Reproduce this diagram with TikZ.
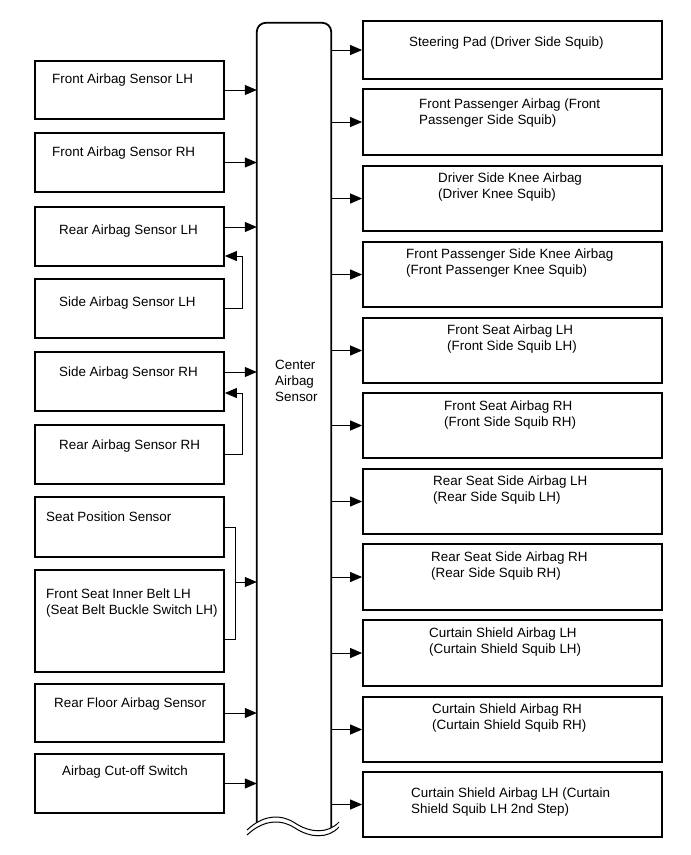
\documentclass[tikz,border=0pt]{standalone}
\usepackage{fontspec}
\setmainfont{Liberation Sans}
\usetikzlibrary{arrows.meta,calc}

\begin{document}
\begin{tikzpicture}[x=1pt,y=-1pt,
  lbox/.style={draw,line width=1.8pt,minimum width=189pt,inner sep=0pt},
  rbox/.style={draw,line width=1.8pt,minimum width=299pt,inner sep=0pt},
  lab/.style={font=\fontsize{13.4}{15.8}\selectfont,align=left,anchor=north west,inner sep=0pt},
  ar/.style={-{Triangle[length=12pt,width=10pt]},line width=1pt},
  wire/.style={line width=1pt},
  rim/.style={line width=1.8pt}]
\useasboundingbox (0,0) rectangle (691,855);

% ---------- center airbag sensor ----------
\node[minimum width=74pt,minimum height=803pt,inner sep=0pt] (cas) at (294,424.5) {};
\draw[rim,rounded corners=9pt] (cas.south west) -- (cas.north west) -- (cas.north east) -- ([yshift=-4pt]cas.south east);
\node[lab] (castxt) at (275,360) {Center\\Airbag\\Sensor};
% break mark at the bottom
\draw[white,line width=4pt,shift={(0,2.5)}] (247,830) .. controls (265,813) and (283,815) .. (295,823) .. controls (310,833) and (328,834) .. (339,822);
\foreach \s in {0,5}
  \draw[wire,shift={(0,\s)}] (247,830) .. controls (265,813) and (283,815) .. (295,823) .. controls (310,833) and (328,834) .. (339,822);

% ---------- inputs (left) ----------
\foreach \n/\y/\hh/\xt/\ty/\txt in {
  1/90/58/52/79/{Front Airbag Sensor LH},
  2/162.5/59/52/152/{Front Airbag Sensor RH},
  3/236.5/59/59/230/{Rear Airbag Sensor LH},
  4/308.5/59/59/302/{Side Airbag Sensor LH},
  5/381.5/59/59/372/{Side Airbag Sensor RH},
  6/454.5/59/59/445/{Rear Airbag Sensor RH},
  7/527/60/46/517/{Seat Position Sensor},
  8/621/102/46/594/{Front Seat Inner Belt LH\\(Seat Belt Buckle Switch LH)},
  9/713/58/54/703/{Rear Floor Airbag Sensor},
  10/783.5/59/62/771/{Airbag Cut-off Switch}}
{
  \node[lbox,minimum height=\hh pt] (l\n) at (129.5,\y) {};
  \node[lab] (lt\n) at (\xt,\ty-5) {\txt};
}
\foreach \n in {1,2,9,10}
  \draw[ar] (l\n) -- (l\n -| cas.west);
\foreach \n in {3,5}{
  \coordinate (o\n) at ([yshift=9.5pt]l\n.east);
  \draw[ar] (o\n) -- (o\n -| cas.west);
}
% side sensors pass through the rear sensors
\draw[ar] (l4.east) -- ++(18,0) |- ([yshift=-19.5pt]l3.east);
\draw[ar] (l6.east) -- ++(18,0) |- ([yshift=-11.5pt]l5.east);
% seat position + buckle switch joined
\coordinate (seatj) at ($(l7.east)+(11,55)$);
\draw[wire] (l7.east) -| (seatj) |- ([yshift=-18pt]l8.east);
\draw[ar] (seatj) -- (seatj -| cas.west);

% ---------- squibs (right) ----------
\foreach \n/\y/\hh/\xt/\ty/\txt in {
  1/50/58/409/42/{Steering Pad (Driver Side Squib)},
  2/122/66/419/104/{Front Passenger Airbag (Front\\Passenger Side Squib)},
  3/198.5/65/438/178/{Driver Side Knee Airbag\\(Driver Knee Squib)},
  4/274.5/65/406/254/{Front Passenger Side Knee Airbag\\(Front Passenger Knee Squib)},
  5/350.5/65/447/330/{Front Seat Airbag LH\\(Front Side Squib LH)},
  6/425.5/65/444/406/{Front Seat Airbag RH\\(Front Side Squib RH)},
  7/501.5/65/433/481/{Rear Seat Side Airbag LH\\(Rear Side Squib LH)},
  8/577/66/431/557/{Rear Seat Side Airbag RH\\(Rear Side Squib RH)},
  9/653/66/429/633/{Curtain Shield Airbag LH\\(Curtain Shield Squib LH)},
  10/729.5/65/432/709/{Curtain Shield Airbag RH\\(Curtain Shield Squib RH)},
  11/804.5/65/411/793/{Curtain Shield Airbag LH (Curtain\\Shield Squib LH 2nd Step)}}
{
  \node[rbox,minimum height=\hh pt] (r\n) at (512.5,\y) {};
  \node[lab] (rt\n) at (\xt,\ty-5) {\txt};
  \draw[ar] (r\n -| cas.east) -- (r\n);
}
\end{tikzpicture}
\end{document}
